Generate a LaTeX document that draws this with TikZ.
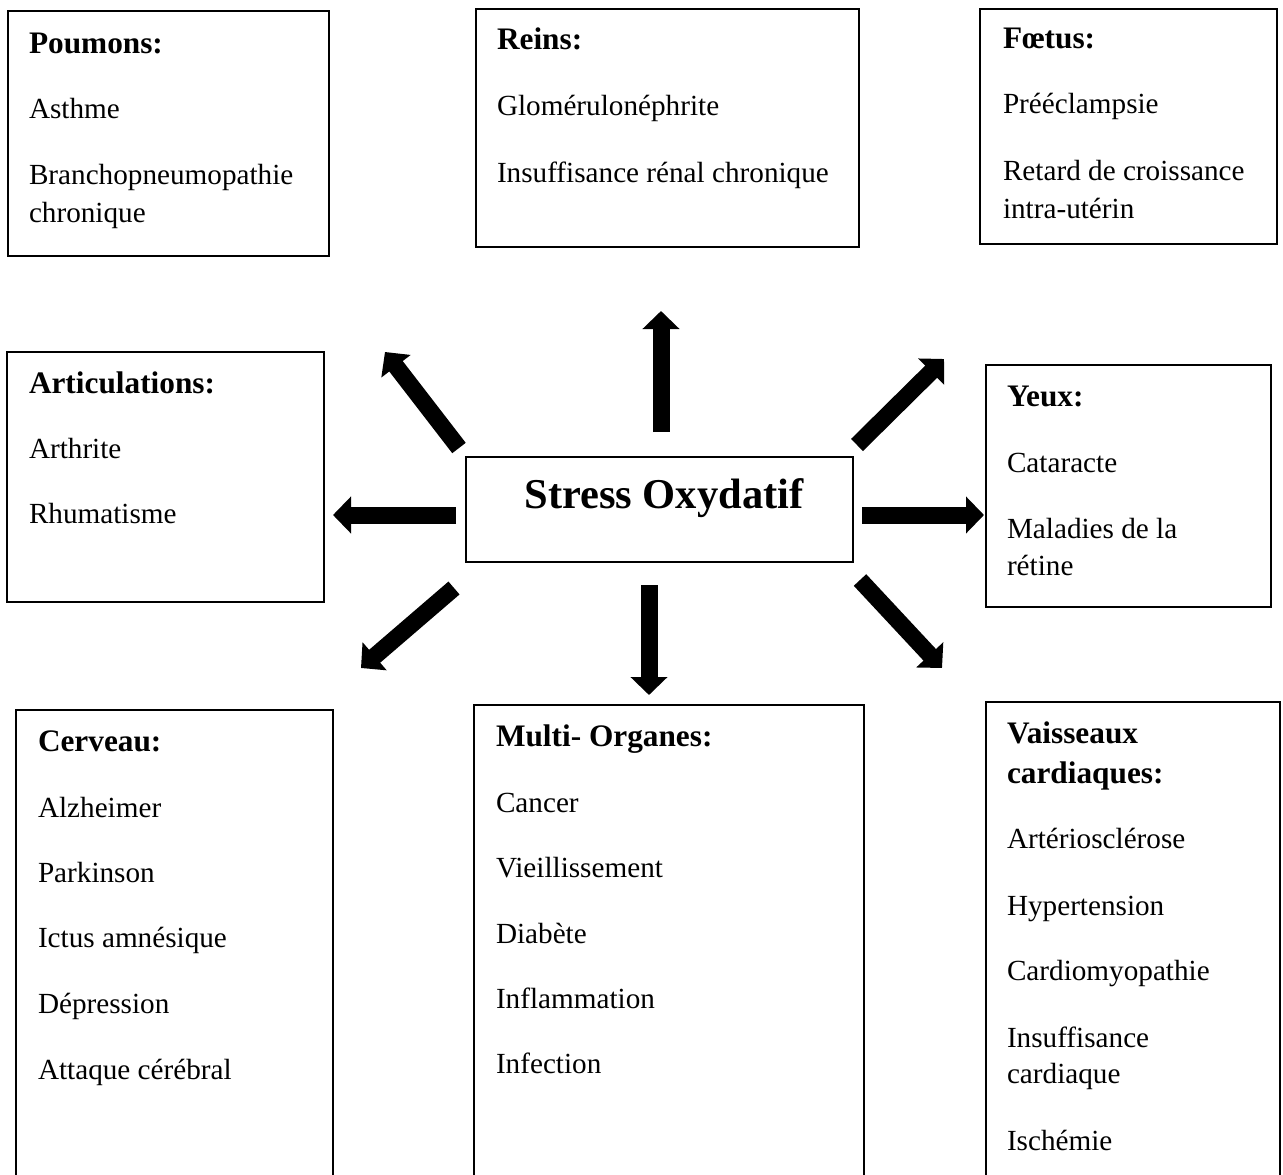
\documentclass[tikz,border=0pt]{standalone}
\usepackage{fontspec}
\setmainfont[Ligatures=NoCommon]{Liberation Serif}
\usetikzlibrary{arrows.meta}
\tikzset{
  box/.style={draw=black, line width=2pt, rectangle, inner sep=0pt, outer sep=0pt, anchor=north west},
  txt/.style={inner sep=0pt, outer sep=0pt, anchor=base west, font=\fontsize{29.2}{38}\selectfont},
  head/.style={txt, font=\fontsize{31.3}{38}\selectfont\bfseries},
  bigarrow/.style={line width=17pt, -{Triangle[length=18pt,width=36pt]}}
}
\begin{document}
\begin{tikzpicture}[x=1pt,y=-1pt]
\useasboundingbox (0,0) rectangle (1283,1175);
\clip (0,0) rectangle (1283,1175);
\fill[white] (0,0) rectangle (1283,1175);

% boxes
\node[box, minimum width=321pt, minimum height=245pt] (poumons) at (8,11) {};
\node[box, minimum width=383pt, minimum height=238pt] (reins) at (476,9) {};
\node[box, minimum width=297pt, minimum height=235pt] (foetus) at (980,9) {};
\node[box, minimum width=317pt, minimum height=250pt] (artic) at (7,352) {};
\node[box, line width=1.5pt, minimum width=387pt, minimum height=105pt] (stress) at (466,457) {};
\node[box, minimum width=285pt, minimum height=242pt] (yeux) at (986,365) {};
\node[box, minimum width=317pt, minimum height=500pt] (cerveau) at (16,710) {};
\node[box, minimum width=390pt, minimum height=500pt] (multi) at (474,705) {};
\node[box, minimum width=294pt, minimum height=500pt] (vaiss) at (986,702) {};

% Poumons
\node[head] (p0) at (29,53) {Poumons:};
\node[txt] (p1) at (29,118) {Asthme};
\node[txt] (p2) at (29,184) {Branchopneumopathie};
\node[txt] (p3) at (29,222) {chronique};
% Reins
\node[head] (r0) at (497,49) {Reins:};
\node[txt] (r1) at (497,115) {Glomérulonéphrite};
\node[txt] (r2) at (497,182) {Insuffisance rénal chronique};
% Foetus
\node[head] (f0) at (1003,48) {Fœtus:};
\node[txt] (f1) at (1003,113) {Prééclampsie};
\node[txt] (f2) at (1003,180) {Retard de croissance};
\node[txt] (f3) at (1003,218) {intra-utérin};
% Articulations
\node[head] (a0) at (29,393) {Articulations:};
\node[txt] (a1) at (29,458) {Arthrite};
\node[txt] (a2) at (29,523) {Rhumatisme};
% Yeux
\node[head] (y0) at (1007,406) {Yeux:};
\node[txt] (y1) at (1007,472) {Cataracte};
\node[txt] (y2) at (1007,538) {Maladies de la};
\node[txt] (y3) at (1007,575) {rétine};
% Stress
\node[inner sep=0pt, anchor=base, font=\fontsize{42.5}{50}\selectfont\bfseries] (s0) at (664,508) {Stress Oxydatif};
% Cerveau
\node[head] (c0) at (38,751) {Cerveau:};
\node[txt] (c1) at (38,817) {Alzheimer};
\node[txt] (c2) at (38,882) {Parkinson};
\node[txt] (c3) at (38,947) {Ictus amnésique};
\node[txt] (c4) at (38,1013) {Dépression};
\node[txt] (c5) at (38,1079) {Attaque cérébral};
% Multi
\node[head] (m0) at (496,746) {Multi- Organes:};
\node[txt] (m1) at (496,812) {Cancer};
\node[txt] (m2) at (496,877) {Vieillissement};
\node[txt] (m3) at (496,943) {Diabète};
\node[txt] (m4) at (496,1008) {Inflammation};
\node[txt] (m5) at (496,1073) {Infection};
% Vaisseaux
\node[head] (v0) at (1007,743) {Vaisseaux};
\node[head] (v1) at (1007,783) {cardiaques:};
\node[txt] (v2) at (1007,848) {Artériosclérose};
\node[txt] (v3) at (1007,915) {Hypertension};
\node[txt] (v4) at (1007,980) {Cardiomyopathie};
\node[txt] (v5) at (1007,1047) {Insuffisance};
\node[txt] (v6) at (1007,1083) {cardiaque};
\node[txt] (v7) at (1007,1150) {Ischémie};

% arrow end points
\coordinate (uS) at (661,432);  \coordinate (uE) at (661,311);
\coordinate (dS) at (649,585);  \coordinate (dE) at (649,695);
\coordinate (lS) at (456,515);  \coordinate (lE) at (333,515);
\coordinate (rS) at (862,515);  \coordinate (rE) at (984,515);
\coordinate (ulS) at (459,448); \coordinate (ulE) at (385,352);
\coordinate (urS) at (857,445); \coordinate (urE) at (944,359);
\coordinate (dlS) at (454,588); \coordinate (dlE) at (361,668);
\coordinate (drS) at (860,580); \coordinate (drE) at (942,668);

\draw[bigarrow] (uS) -- (uE);
\draw[bigarrow] (dS) -- (dE);
\draw[bigarrow] (lS) -- (lE);
\draw[bigarrow] (rS) -- (rE);
\draw[bigarrow] (ulS) -- (ulE);
\draw[bigarrow] (urS) -- (urE);
\draw[bigarrow] (dlS) -- (dlE);
\draw[bigarrow] (drS) -- (drE);
\end{tikzpicture}
\end{document}
